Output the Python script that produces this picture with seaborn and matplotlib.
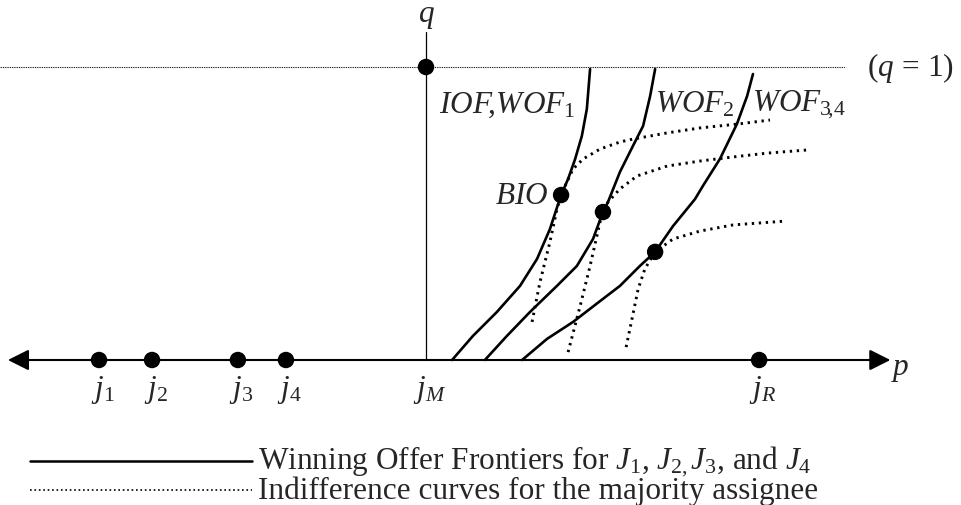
import matplotlib
matplotlib.use("Agg")
import matplotlib.pyplot as plt
import numpy as np
import pandas as pd
import seaborn as sns

# winning offer frontiers (p, q), solid
WOF1_P = [0.089, 0.160, 0.242, 0.321, 0.379, 0.423, 0.461, 0.485, 0.509, 0.532, 0.549, 0.560]
WOF1_Q = [0.0, 0.082, 0.164, 0.253, 0.345, 0.447, 0.563, 0.618, 0.686, 0.765, 0.857, 0.993]
WOF2_P = [0.201, 0.276, 0.355, 0.447, 0.515, 0.570, 0.604, 0.621, 0.662, 0.706, 0.741, 0.765, 0.782]
WOF2_Q = [0.0, 0.082, 0.164, 0.253, 0.321, 0.413, 0.505, 0.539, 0.642, 0.730, 0.799, 0.901, 0.993]
WOF3_P = [0.328, 0.413, 0.502, 0.594, 0.662, 0.730, 0.782, 0.843, 0.918, 0.945, 1.003, 1.061, 1.096, 1.116]
WOF3_Q = [0.0, 0.072, 0.130, 0.201, 0.253, 0.321, 0.369, 0.457, 0.549, 0.594, 0.686, 0.805, 0.901, 0.976]

# indifference curves, dotted
IC1_P = [0.362, 0.389, 0.423, 0.447, 0.461, 0.481, 0.502, 0.536, 0.594, 0.662, 0.706, 0.823, 0.935, 1.061, 1.174]
IC1_Q = [0.130, 0.266, 0.403, 0.515, 0.563, 0.608, 0.652, 0.686, 0.720, 0.744, 0.754, 0.775, 0.792, 0.805, 0.819]
IC2_P = [0.485, 0.526, 0.560, 0.594, 0.604, 0.621, 0.662, 0.720, 0.823, 0.935, 1.048, 1.164, 1.304]
IC2_Q = [0.027, 0.184, 0.321, 0.471, 0.505, 0.539, 0.584, 0.628, 0.662, 0.679, 0.693, 0.706, 0.717]
IC3_P = [0.683, 0.703, 0.724, 0.747, 0.782, 0.843, 0.935, 1.048, 1.225]
IC3_Q = [0.044, 0.140, 0.242, 0.311, 0.369, 0.413, 0.440, 0.461, 0.474]

# tangency points and the q=1 point
DOT_P = [0.0, 0.461, 0.604, 0.782]
DOT_Q = [1.0, 0.563, 0.505, 0.369]

# judges on the p axis
J_NAMES = [r"$j_{\mathrm{1}}$", r"$j_{\mathrm{2}}$", r"$j_{\mathrm{3}}$", r"$j_{\mathrm{4}}$", r"$j_M$", r"$j_R$"]
J_P = [-1.116, -0.935, -0.642, -0.478, 0.0, 1.137]
J_MARKED = [True, True, True, True, False, True]

CURVE_LABELS = [r"$IOF\!,\!WOF_{\mathrm{1}}$", r"$WOF_{\mathrm{2}}$",
                r"$WOF_{\mathrm{3}\!,\!\mathrm{4}}$"]

sns.set_style("white")
plt.rcParams["font.family"] = ["Liberation Serif", "DejaVu Serif"]
plt.rcParams["mathtext.fontset"] = "custom"
plt.rcParams["mathtext.rm"] = "Liberation Serif"
plt.rcParams["mathtext.it"] = "Liberation Serif:italic"
plt.rcParams["mathtext.bf"] = "Liberation Serif:bold"

FS = 22.5

fig = plt.figure(figsize=(9.62, 5.06), dpi=100)
ax = fig.add_axes([0, 0, 1, 1])
ax.set_xlim(-426 / 293, 536 / 293)
ax.set_ylim(-145 / 293, 361 / 293)
ax.axis("off")

# axes
ax.annotate("", xy=(1.585, 0), xytext=(-1.427, 0),
            arrowprops=dict(arrowstyle="<|-|>", mutation_scale=32, lw=1.5,
                            color="black", shrinkA=0, shrinkB=0))
ax.plot([0, 0], [0, 1.119], color="black", lw=0.9)
ax.plot([-1.46, 1.43], [1, 1], color="black", lw=0.8, linestyle=(0, (0.8, 0.8)))

solid = [(WOF1_P, WOF1_Q), (WOF2_P, WOF2_Q), (WOF3_P, WOF3_Q)]
dotted = [(IC1_P, IC1_Q), (IC2_P, IC2_Q), (IC3_P, IC3_Q)]
for p, q in solid:
    sns.lineplot(x=p, y=q, ax=ax, color="black", lw=1.9, sort=False, estimator=None)
for p, q in dotted:
    sns.lineplot(x=p, y=q, ax=ax, color="black", lw=2.1, sort=False, estimator=None,
                 linestyle=(0, (0.8, 1.6)))

sns.scatterplot(x=DOT_P, y=DOT_Q, ax=ax, color="black", s=140, edgecolor="none", zorder=5)
mp = [p for p, m in zip(J_P, J_MARKED) if m]
sns.scatterplot(x=mp, y=[0] * len(mp), ax=ax, color="black", s=140, edgecolor="none",
                zorder=5)

for name, p in zip(J_NAMES, J_P):
    ax.text(p + 0.012, -0.1, name, fontsize=FS, ha="center", va="center")

ax.text(0, 1.175, r"$q$", fontsize=FS, ha="center", va="center")
ax.text(1.62, -0.03, r"$p$", fontsize=FS, ha="center", va="center")
ax.text(1.505, 1.0, r"$(q\,=\,1)$", fontsize=FS, ha="left", va="center")

ax.text(0.045, 0.874, CURVE_LABELS[0], fontsize=FS, ha="left", va="center")
ax.text(0.782, 0.874, CURVE_LABELS[1], fontsize=FS, ha="left", va="center")
ax.text(1.113, 0.874, CURVE_LABELS[2], fontsize=FS, ha="left", va="center")
ax.text(0.418, 0.563, r"$BIO$", fontsize=FS, ha="right", va="center")

# legend drawn by hand
ax.plot([-1.352, -0.594], [-0.345, -0.345], color="black", lw=1.8)
ax.plot([-1.352, -0.594], [-0.444, -0.444], color="black", lw=1.2, linestyle=":")
ax.text(-0.573, -0.345,
        r"Winning Offer Frontiers for $J_1$, $J_{2,}$$J_3$, and $J_4$",
        fontsize=FS, ha="left", va="center")
ax.text(-0.573, -0.444, "Indifference curves for the majority assignee",
        fontsize=FS, ha="left", va="center")

fig.savefig("out.png", dpi=100, facecolor="white")
